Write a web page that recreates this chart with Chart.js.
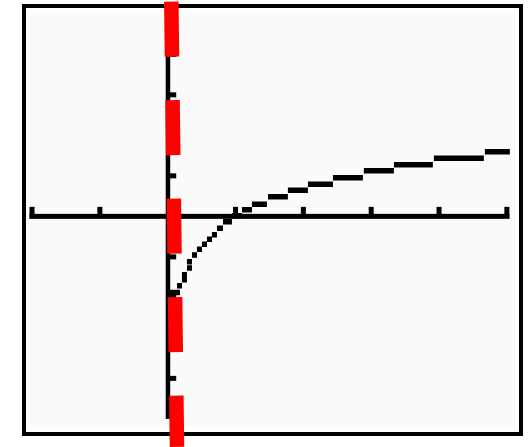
<!DOCTYPE html>
<html>
<head>
<meta charset="utf-8">
<script src="https://cdn.jsdelivr.net/npm/chart.js@4/dist/chart.umd.min.js"></script>
<style>
  html, body { margin: 0; padding: 0; background: #ffffff; }
  canvas { display: block; }
</style>
</head>
<body>
<canvas id="graph" width="530" height="447"></canvas>
<script>
// window of the graph (calculator style, x -2..5, y -5..5)
const xMin = -2.03, xMax = 5.12, yMin = -5.2, yMax = 5.02;
const xAxisEnds = [-2.04, 5.04];
const yAxisEnds = [-5, 5];
const xTicks = [-2, -1, 1, 2, 3, 4, 5];
const yTicks = [-4, -3, -2, -1, 1, 2, 3, 4];

// curve: each run is one flat piece of the stepped plot
const runStart = [0.034, 0.137, 0.210, 0.210, 0.284, 0.284, 0.358, 0.431, 0.505, 0.579, 0.652,
                  0.726, 0.815, 0.947, 1.095, 1.242, 1.478, 1.772, 2.067, 2.436, 2.892, 3.335, 3.924, 4.676];
const runEnd   = [0.181, 0.211, 0.284, 0.284, 0.358, 0.358, 0.432, 0.505, 0.579, 0.653, 0.726,
                  0.815, 0.947, 1.095, 1.242, 1.463, 1.772, 2.067, 2.436, 2.878, 3.335, 3.909, 4.661, 5.044];
const runY     = [-1.877, -1.716, -1.568, -1.444, -1.272, -1.123, -0.951, -0.815, -0.691, -0.568, -0.457,
                  -0.296, -0.136, 0.012, 0.160, 0.296, 0.481, 0.642, 0.790, 0.951, 1.123, 1.272, 1.432, 1.593];

// red dashed asymptote, drawn a little slanted past the frame
const asymX = [0.053, 0.137];
const asymY = [5.3, -5.69];

var curvePoints = [];
for (var i = 0; i < runY.length; i++) {
  curvePoints.push({ x: runStart[i], y: runY[i] });
  curvePoints.push({ x: runEnd[i], y: runY[i] });
  curvePoints.push({ x: runEnd[i], y: null });
}

var asymPoints = asymX.map(function(x, i) { return { x: x, y: asymY[i] }; });

// frame, grey screen and the axes with their ticks
var screenPlugin = {
  id: 'screen',
  beforeDraw: function(chart) {
    var ctx = chart.ctx, a = chart.chartArea;
    ctx.save();
    ctx.fillStyle = '#ffffff';
    ctx.fillRect(0, 0, chart.width, chart.height);
    ctx.fillStyle = '#fafafa';
    ctx.fillRect(a.left, a.top, a.right - a.left, a.bottom - a.top);
    ctx.strokeStyle = '#000000';
    ctx.lineWidth = 4;
    ctx.strokeRect(a.left - 6, a.top - 7, a.right - a.left + 12, a.bottom - a.top + 14);
    ctx.restore();
  },
  beforeDatasetsDraw: function(chart) {
    var ctx = chart.ctx, sx = chart.scales.x, sy = chart.scales.y;
    var x0 = sx.getPixelForValue(0), y0 = sy.getPixelForValue(0);
    ctx.save();
    ctx.fillStyle = '#000000';
    // x axis
    var xa = sx.getPixelForValue(xAxisEnds[0]), xb = sx.getPixelForValue(xAxisEnds[1]);
    ctx.fillRect(xa, y0 - 2.5, xb - xa, 5);
    xTicks.forEach(function(v) {
      var px = sx.getPixelForValue(v);
      ctx.fillRect(px - 2.5, y0 - 9.5, 5, 8);
    });
    // y axis
    var ya = sy.getPixelForValue(yAxisEnds[1]), yb = sy.getPixelForValue(yAxisEnds[0]);
    ctx.fillRect(x0 - 2, ya, 4.5, yb - ya);
    yTicks.forEach(function(v) {
      var py = sy.getPixelForValue(v);
      ctx.fillRect(x0, py - 2.5, 8.5, 5);
    });
    ctx.restore();
  }
};

var ctx = document.getElementById('graph').getContext('2d');
var chart = new Chart(ctx, {
  type: 'scatter',
  data: {
    datasets: [
      {
        label: 'asymptote',
        data: asymPoints,
        showLine: true,
        borderColor: '#ff0000',
        borderWidth: 14.5,
        borderDash: [55, 43.5],
        borderCapStyle: 'butt',
        pointRadius: 0,
        clip: false
      },
      {
        label: 'curve',
        data: curvePoints,
        showLine: true,
        spanGaps: false,
        borderColor: '#000000',
        borderWidth: 5.5,
        borderCapStyle: 'butt',
        pointRadius: 0
      }
    ]
  },
  options: {
    responsive: false,
    animation: false,
    layout: { padding: { left: 30, top: 13, right: 15, bottom: 20 } },
    scales: {
      x: { type: 'linear', display: false, min: xMin, max: xMax },
      y: { type: 'linear', display: false, min: yMin, max: yMax }
    },
    plugins: {
      legend: { display: false },
      tooltip: { enabled: false }
    }
  },
  plugins: [screenPlugin]
});
</script>
</body>
</html>
